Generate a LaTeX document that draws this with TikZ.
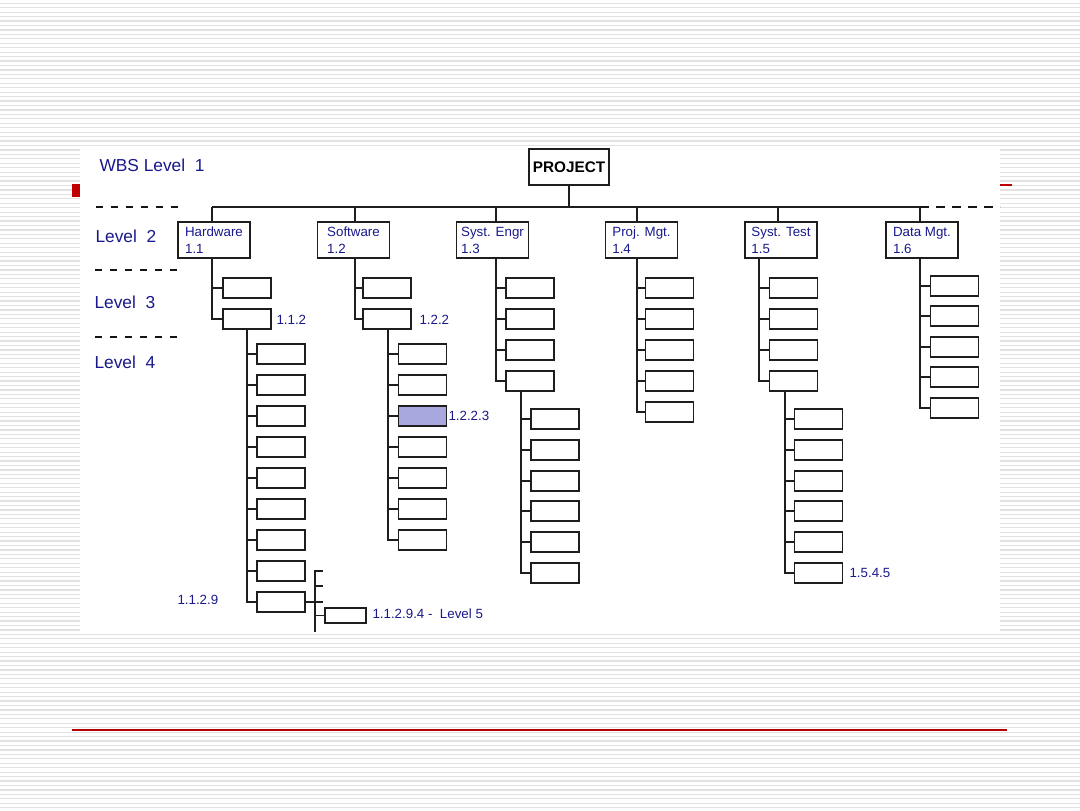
\documentclass[tikz,border=0pt]{standalone}
\usepackage{fontspec}
\setmainfont{Liberation Sans}

\tikzset{every picture/.style={line width=0.75pt}}
\tikzset{
  stripe/.style={draw={rgb, 255:red, 226; green, 226; blue, 226 }, line width=0.9pt},
  wbsline/.style={draw={rgb, 255:red, 30; green, 30; blue, 30 }, line width=1.2pt},
  lvldash/.style={draw={rgb, 255:red, 20; green, 20; blue, 20 }, line width=2.2pt, dash pattern=on 5.6pt off 5.6pt},
  busdash/.style={draw={rgb, 255:red, 20; green, 20; blue, 20 }, line width=1.2pt, dash pattern=on 6.5pt off 5.5pt},
  lvltext/.style={anchor=west, inner sep=0pt, text={rgb, 255:red, 25; green, 25; blue, 140 }, font=\fontsize{13}{15}\selectfont},
  numtext/.style={anchor=west, inner sep=0pt, text={rgb, 255:red, 25; green, 25; blue, 140 }, font=\fontsize{10}{12}\selectfont},
  projbox/.style={wbsline, fill=white, minimum width=60pt, minimum height=27pt, inner sep=0pt, font=\fontsize{11.5}{13}\selectfont\bfseries},
  topbox/.style={wbsline, fill=white, minimum width=54pt, minimum height=27pt, inner sep=0pt, align=left, text={rgb, 255:red, 25; green, 25; blue, 140 }, font=\fontsize{10}{12.75}\selectfont},
  wbox/.style={wbsline, fill=white, minimum width=36pt, minimum height=15pt, inner sep=0pt},
  markbox/.style={wbox, fill={rgb, 255:red, 168; green, 168; blue, 222 }},
  leafbox/.style={wbsline, fill=white, minimum width=31pt, minimum height=11pt, inner sep=0pt}
}

\begin{document}
\begin{tikzpicture}[x=0.75pt,y=0.75pt,yscale=-1]
\useasboundingbox (0,0) rectangle (1080,810);

%Slide background
\fill [white] (0,0) rectangle (1080,810);
\foreach \k in {0,...,181} \draw [stripe] (0,{3.3+4.444*\k}) -- (1080,{3.3+4.444*\k});
\fill [white] (80,148) rectangle (1000,632);
\fill [fill={rgb, 255:red, 192; green, 0; blue, 0 }] (72,184) rectangle (80,197);
\draw [color={rgb, 255:red, 192; green, 0; blue, 0 }, line width=1.5pt] (1000,185) -- (1012,185);
\draw [color={rgb, 255:red, 180; green, 0; blue, 0 }, line width=1pt] (72,730) -- (1007,730);

%Level separators
\draw [lvldash] (96,207) -- (178,207);
\draw [lvldash] (95,270) -- (178,270);
\draw [lvldash] (95,337) -- (178,337);

% Text Node
\node [lvltext] (wbs1) at (99,165) {WBS Level\ \ 1};
\node [lvltext] (wbs2) at (95,236) {Level\ \ 2};
\node [lvltext] (wbs3) at (94,302) {Level\ \ 3};
\node [lvltext] (wbs4) at (94,362) {Level\ \ 4};

%Level 1 and 2
\node [projbox] (proj) at (569,167) {PROJECT};
\node [topbox] (hw) at (214,240) {Hardware\\1.1};
\node [topbox] (sw) at (353.5,240) {Software\\1.2};
\node [topbox] (se) at (492.5,240) {Syst. Engr\\1.3};
\node [topbox] (pm) at (641.5,240) {Proj. Mgt.\\1.4};
\node [topbox] (st) at (781,240) {Syst. Test\\1.5};
\node [topbox] (dm) at (922,240) {Data Mgt.\\1.6};

%Bus
\coordinate (d1) at (212,207);
\coordinate (d2) at (355,207);
\coordinate (d3) at (496,207);
\coordinate (d4) at (637,207);
\coordinate (d5) at (778,207);
\coordinate (d6) at (920,207);
\coordinate (busE) at (1000,207);
\draw [wbsline] (proj.south) -- (proj.south |- d1);
\draw [wbsline] (d1) -- (d6);
\draw [busdash] (d6) -- (busE);
\draw [wbsline] (d1) -- (d1 |- hw.north);
\draw [wbsline] (d2) -- (d2 |- sw.north);
\draw [wbsline] (d3) -- (d3 |- se.north);
\draw [wbsline] (d4) -- (d4 |- pm.north);
\draw [wbsline] (d5) -- (d5 |- st.north);
\draw [wbsline] (d6) -- (d6 |- dm.north);

%Level 3
\node [wbox] (hwA) at (247,288) {};
\node [wbox] (hwB) at (247,319) {};
\node [wbox] (swA) at (387,288) {};
\node [wbox] (swB) at (387,319) {};
\node [wbox] (se1) at (530,288) {};
\node [wbox] (se2) at (530,319) {};
\node [wbox] (se3) at (530,350) {};
\node [wbox] (se4) at (530,381) {};
\node [wbox] (pm1) at (669.5,288) {};
\node [wbox] (pm2) at (669.5,319) {};
\node [wbox] (pm3) at (669.5,350) {};
\node [wbox] (pm4) at (669.5,381) {};
\node [wbox] (pm5) at (669.5,412) {};
\node [wbox] (st1) at (793.5,288) {};
\node [wbox] (st2) at (793.5,319) {};
\node [wbox] (st3) at (793.5,350) {};
\node [wbox] (st4) at (793.5,381) {};
\node [wbox] (dm1) at (954.5,286) {};
\node [wbox] (dm2) at (954.5,316) {};
\node [wbox] (dm3) at (954.5,347) {};
\node [wbox] (dm4) at (954.5,377) {};
\node [wbox] (dm5) at (954.5,408) {};

%Level 3 trunks
\coordinate (t1) at (212,258);
\coordinate (t2) at (355,258);
\coordinate (t3) at (496,258);
\coordinate (t4) at (637,258);
\coordinate (t5) at (759,258);
\coordinate (t6) at (920,258);
\draw [wbsline] (t1) |- (hwA.west) (t1) |- (hwB.west);
\draw [wbsline] (t2) |- (swA.west) (t2) |- (swB.west);
\draw [wbsline] (t3) |- (se1.west) (t3) |- (se2.west) (t3) |- (se3.west) (t3) |- (se4.west);
\draw [wbsline] (t4) |- (pm1.west) (t4) |- (pm2.west) (t4) |- (pm3.west) (t4) |- (pm4.west) (t4) |- (pm5.west);
\draw [wbsline] (t5) |- (st1.west) (t5) |- (st2.west) (t5) |- (st3.west) (t5) |- (st4.west);
\draw [wbsline] (t6) |- (dm1.west) (t6) |- (dm2.west) (t6) |- (dm3.west) (t6) |- (dm4.west) (t6) |- (dm5.west);

%Level 4
\node [wbox] (hwB1) at (281,354) {};
\node [wbox] (hwB2) at (281,385) {};
\node [wbox] (hwB3) at (281,416) {};
\node [wbox] (hwB4) at (281,447) {};
\node [wbox] (hwB5) at (281,478) {};
\node [wbox] (hwB6) at (281,509) {};
\node [wbox] (hwB7) at (281,540) {};
\node [wbox] (hwB8) at (281,571) {};
\node [wbox] (hwB9) at (281,602) {};
\node [wbox] (swB1) at (422.5,354) {};
\node [wbox] (swB2) at (422.5,385) {};
\node [markbox] (swB3) at (422.5,416) {};
\node [wbox] (swB4) at (422.5,447) {};
\node [wbox] (swB5) at (422.5,478) {};
\node [wbox] (swB6) at (422.5,509) {};
\node [wbox] (swB7) at (422.5,540) {};
\node [wbox] (se41) at (555,419) {};
\node [wbox] (se42) at (555,450) {};
\node [wbox] (se43) at (555,481) {};
\node [wbox] (se44) at (555,511) {};
\node [wbox] (se45) at (555,542) {};
\node [wbox] (se46) at (555,573) {};
\node [wbox] (st41) at (818.5,419) {};
\node [wbox] (st42) at (818.5,450) {};
\node [wbox] (st43) at (818.5,481) {};
\node [wbox] (st44) at (818.5,511) {};
\node [wbox] (st45) at (818.5,542) {};
\node [wbox] (st46) at (818.5,573) {};

%Level 4 trunks
\coordinate (u1) at (247,329);
\coordinate (u2) at (388,329);
\coordinate (u3) at (521,391);
\coordinate (u4) at (785,391);
\draw [wbsline] (u1) |- (hwB1.west) (u1) |- (hwB2.west) (u1) |- (hwB3.west) (u1) |- (hwB4.west) (u1) |- (hwB5.west) (u1) |- (hwB6.west) (u1) |- (hwB7.west) (u1) |- (hwB8.west) (u1) |- (hwB9.west);
\draw [wbsline] (u2) |- (swB1.west) (u2) |- (swB2.west) (u2) |- (swB3.west) (u2) |- (swB4.west) (u2) |- (swB5.west) (u2) |- (swB6.west) (u2) |- (swB7.west);
\draw [wbsline] (u3) |- (se41.west) (u3) |- (se42.west) (u3) |- (se43.west) (u3) |- (se44.west) (u3) |- (se45.west) (u3) |- (se46.west);
\draw [wbsline] (u4) |- (st41.west) (u4) |- (st42.west) (u4) |- (st43.west) (u4) |- (st44.west) (u4) |- (st45.west) (u4) |- (st46.west);

%Level 5
\node [leafbox] (hwC4) at (345.5,615.5) {};
\coordinate (v1) at (315,570);
\coordinate (v2) at (315,632);
\coordinate (k1) at (323,571);
\coordinate (k2) at (323,586);
\coordinate (k3) at (323,602);
\draw [wbsline] (v1) -- (v2);
\draw [wbsline] (hwB9.east) -- (k3);
\draw [wbsline] (v1 |- k1) -- (k1) (v1 |- k2) -- (k2);
\draw [wbsline] (v1 |- hwC4.west) -- (hwC4.west);

% Text Node
\node [numtext] (n112) at (276,320) {1.1.2};
\node [numtext] (n122) at (419,320) {1.2.2};
\node [numtext] (n1223) at (448,416) {1.2.2.3};
\node [numtext] (n1545) at (849,573) {1.5.4.5};
\node [numtext] (n1129) at (177,600) {1.1.2.9};
\node [numtext] (n11294) at (372,614) {1.1.2.9.4 -\ \ Level 5};

\end{tikzpicture}
\end{document}
